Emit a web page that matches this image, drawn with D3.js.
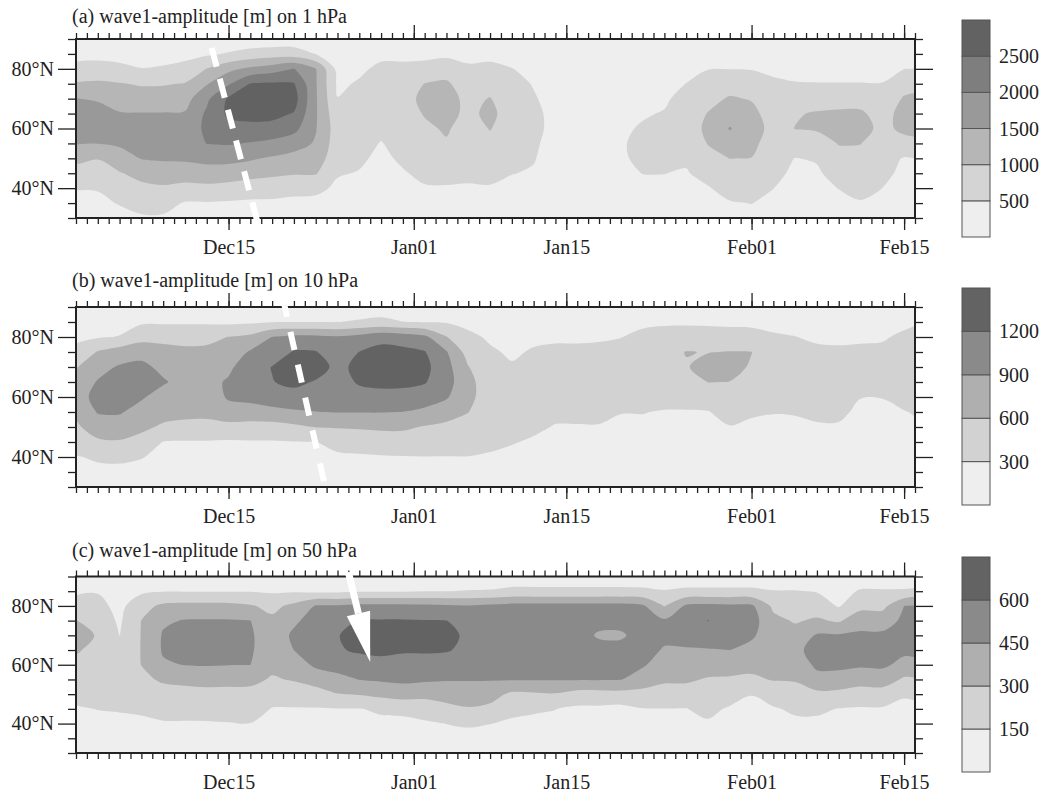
<!DOCTYPE html>
<html>
<head>
<meta charset="utf-8">
<script src="https://cdn.jsdelivr.net/npm/d3@7"></script>
<style>
  body { margin: 0; background: #fff; }
  svg { display: block; font-family: "Liberation Serif", "Times New Roman", serif; }
</style>
</head>
<body>
<svg id="chart" width="1044" height="792"></svg>
<script>
// grid: latitude rows (north to south) and days after Dec 01, every 2 days
const lats = [90, 85, 80, 75, 70, 65, 60, 55, 50, 45, 40, 35, 30];
const gridDays = d3.range(0, 80, 2);

// (a) 1 hPa, hundreds of metres; one column per grid day, values from 90N to 30N
const ampA = [
  [2, 3.7, 6.1, 10.5, 15.1, 16.6, 16.9, 15.2, 11.2, 7.9, 5.2, 3.5, 2],
  [2, 3.8, 6.5, 10.9, 14.6, 16.5, 16.8, 15.1, 10.2, 7.7, 5.4, 3.6, 2],
  [2, 3.7, 5.9, 10.3, 12.9, 15.3, 16.5, 15.6, 13.3, 9.6, 7.5, 5.4, 3],
  [2, 3.5, 5.1, 9.5, 12.6, 15.2, 16.1, 16.0, 15.2, 11.8, 8.6, 6.4, 4.5],
  [2, 3.6, 5.4, 9.6, 12.7, 15.2, 16.3, 16.6, 15.5, 12.9, 9.2, 6.4, 4.5],
  [2, 3.8, 6.3, 10.3, 13.1, 15.4, 16.7, 17, 15.7, 12.7, 8.3, 4.7, 3],
  [2, 4.3, 10.1, 14.6, 19, 20.8, 21.1, 20.1, 16.5, 12.8, 8.8, 4.7, 2.5],
  [2, 5.4, 13.7, 19.4, 25.7, 25.9, 23.2, 20.4, 16.5, 12.5, 8.3, 4.5, 2.5],
  [2, 6.7, 16, 25.2, 27.2, 26.6, 23.7, 19.7, 15.6, 11.9, 7.2, 4.3, 2.5],
  [2, 7.5, 17.7, 25.7, 28.5, 26.4, 23.4, 18.7, 14.4, 11, 7.1, 4.2, 2.5],
  [2, 7.5, 20.1, 25.3, 27, 24.7, 21.5, 17.1, 13.3, 10.4, 6.3, 4, 2.5],
  [2, 4.9, 15.2, 15.5, 15.6, 15.6, 15.3, 14.5, 12.5, 10.4, 6, 3.9, 2.5],
  [2, 2.8, 3.5, 4.3, 5.1, 6.5, 7.5, 7.3, 7, 5.3, 4.3, 3.4, 2.5],
  [2, 3.1, 4.3, 5.4, 6.4, 7.5, 7, 6.5, 5.6, 4.8, 4, 3.3, 2.5],
  [2, 4.1, 5.8, 7.2, 7.7, 6.9, 6, 4.8, 4.2, 3.5, 3.2, 2.8, 2.5],
  [2, 4.1, 5.8, 7.2, 8.5, 8, 7.5, 6.5, 5.6, 4.7, 4.0, 3.3, 2.5],
  [2, 3.8, 6.5, 10.1, 11, 10.3, 9.2, 8, 6.9, 5.8, 4.7, 3.9, 2.5],
  [2, 3.9, 7.8, 10.7, 11.6, 11.4, 10.5, 9.6, 8.1, 6.1, 4.7, 3.9, 2.5],
  [2, 3.9, 5.6, 7.3, 8.9, 9.0, 8.1, 7.3, 6.4, 5.6, 4.7, 3.9, 2.5],
  [2, 3.9, 6, 8.2, 10.2, 11, 10.2, 8.9, 7.4, 6, 4.7, 3.9, 2.5],
  [2, 3.4, 5.1, 6.1, 7.1, 8, 7.6, 6.9, 6.1, 5.1, 4.1, 3.3, 2.5],
  [2, 3, 3.9, 4.8, 5.3, 5.8, 5.9, 5.5, 5.2, 4.7, 4, 3.2, 2.5],
  [2, 2.5, 3, 3.5, 3.8, 4, 4, 3.8, 3.5, 3.2, 3, 2.7, 2.5],
  [2, 2.4, 2.8, 3.2, 3.5, 3.6, 3.6, 3.5, 3.3, 3.1, 2.9, 2.6, 2.4],
  [2, 2.4, 2.8, 3.3, 3.7, 3.9, 4, 3.9, 3.7, 3.4, 3.1, 2.7, 2.4],
  [2, 2.5, 3, 3.5, 4, 4.2, 4.5, 4.6, 4.5, 4.3, 3.8, 3.2, 2.6],
  [2, 2.5, 3, 3.4, 4.1, 4.7, 5.3, 6, 5.8, 5.05, 4.2, 3.3, 2.5],
  [2, 2.6, 3.3, 3.9, 4.5, 5.2, 6.1, 7, 6, 5.05, 4.2, 3.3, 2.5],
  [2, 3, 4, 5.05, 6.2, 7.3, 7.6, 6.6, 5.6, 4.7, 4, 3.2, 2.5],
  [2, 3.6, 4.9, 6.7, 8.5, 10.2, 11, 10.2, 8.5, 6.4, 4.7, 3.7, 2.5],
  [2, 3.6, 4.9, 7.7, 10.5, 12.9, 15.3, 12.7, 10.05, 8.2, 6.5, 4.7, 3],
  [2, 3.6, 4.8, 7.2, 9.7, 11.3, 12.5, 11.2, 9.9, 8.3, 6.7, 5.1, 3.5],
  [2, 3.2, 4.4, 5.5, 6.8, 7.8, 8.2, 7.7, 6.9, 6.1, 5.05, 4, 3],
  [2, 3.2, 3.9, 5.2, 7.5, 9.6, 10.1, 7.8, 4.9, 4.2, 3.6, 3, 2.5],
  [2, 3, 4, 5.1, 7.9, 10.4, 10.5, 8, 5.4, 4.4, 3.7, 3.1, 2.5],
  [2, 3, 4, 5.1, 8.2, 10.7, 11.7, 10.2, 8.5, 6.8, 5.1, 3.8, 2.5],
  [2, 3, 4, 5.1, 8.2, 10.7, 11.7, 10.1, 8.8, 7.4, 6.1, 4.7, 3],
  [2, 3, 4, 5.1, 6.6, 8.1, 8.8, 8, 6.8, 5.9, 5, 4, 3],
  [2, 3.6, 4.9, 8, 10.5, 11.7, 11, 8.5, 4.7, 4.2, 3.7, 3.1, 2.5],
  [2, 3.7, 5.2, 8.5, 11, 12, 11.2, 8.8, 4.9, 4.3, 3.8, 3.2, 2.6]
];

// (b) 10 hPa, hundreds of metres
const ampB = [
  [1.5, 2, 2.6, 3.5, 5.8, 7.2, 7.6, 6.6, 5.5, 4.1, 2.8, 2.3, 1.5],
  [1.5, 2.1, 2.8, 6.2, 8, 9.2, 10, 9.2, 7.5, 5.5, 3.4, 2.3, 1.5],
  [1.5, 2.2, 3.1, 7.4, 9.3, 10.2, 10, 9.25, 7.7, 5.7, 3.7, 2.1, 1.5],
  [1.5, 2.6, 4.9, 8, 9.7, 10.3, 9.3, 8, 6.6, 5, 3.1, 2.3, 1.5],
  [1.5, 2.6, 5.2, 6.9, 8.3, 9.3, 7.9, 7, 5.6, 2.9, 2.5, 2, 1.5],
  [1.5, 2.6, 5.2, 6.5, 7.3, 8, 7.3, 6.7, 5.3, 2.8, 2.4, 2, 1.5],
  [1.5, 2.6, 5.3, 6.6, 7.4, 8.2, 7.5, 6.7, 5.2, 2.8, 2.4, 2, 1.5],
  [1.5, 2.4, 6.05, 7.3, 8.5, 9.3, 9.3, 8, 5.0, 2.7, 2.3, 1.9, 1.5],
  [1.5, 2.6, 6.7, 9.3, 10.5, 10.5, 9.6, 8.1, 4.7, 2.8, 2.3, 1.9, 1.5],
  [1.5, 2.9, 9.05, 10.3, 12.1, 11.9, 10.3, 8.3, 4.8, 2.8, 2.4, 1.9, 1.5],
  [1.5, 2.95, 9.7, 12.25, 13.3, 12.6, 11, 8.6, 5.4, 2.9, 2.4, 2, 1.5],
  [1.5, 2.95, 9.65, 12.15, 13.2, 11.8, 10.4, 8.95, 6.1, 2.95, 2.5, 2, 1.5],
  [1.5, 2.95, 9.3, 10.3, 11.3, 10.9, 10.1, 9.1, 6.2, 3.8, 2.6, 2.1, 1.5],
  [1.5, 3.3, 10, 12.05, 12.7, 12.3, 11, 9.1, 6.35, 4.1, 2.7, 2.1, 1.5],
  [1.5, 3.7, 11.1, 12.9, 14, 12.7, 11.1, 9.1, 6.5, 4.5, 2.8, 2.1, 1.5],
  [1.5, 3.05, 10.7, 12.7, 13.8, 12.6, 11.1, 8.95, 6.5, 4.5, 2.9, 2.2, 1.5],
  [1.5, 2.9, 9.7, 12.15, 12.8, 12.2, 10.6, 8.3, 5.8, 4.4, 2.95, 2.2, 1.5],
  [1.5, 2.75, 6.1, 9.2, 10, 10.2, 9.3, 7.3, 5.3, 4.1, 2.95, 2.2, 1.5],
  [1.5, 2.4, 3.5, 4.8, 6.1, 6.7, 6.6, 6.05, 5, 3.9, 2.95, 2.2, 1.5],
  [1.5, 2.1, 2.7, 3.3, 4, 4.6, 4.8, 4.4, 3.9, 3.4, 2.8, 2.2, 1.5],
  [1.5, 1.9, 2.2, 2.7, 3.2, 3.9, 4.5, 4.1, 3.6, 3.1, 2.6, 2.1, 1.5],
  [1.5, 2, 2.6, 3.2, 3.8, 4.4, 4.6, 4, 3.3, 2.8, 2.4, 1.9, 1.5],
  [1.5, 2.1, 2.7, 3.4, 4.1, 4.8, 4.2, 3.4, 2.9, 2.5, 2.2, 1.8, 1.5],
  [1.5, 2.1, 2.7, 3.4, 4.1, 4.8, 4.2, 3.4, 2.9, 2.5, 2.2, 1.8, 1.5],
  [1.5, 2.1, 2.8, 3.4, 4.1, 4.8, 4.1, 3.4, 2.9, 2.5, 2.2, 1.8, 1.5],
  [1.5, 2.2, 2.95, 3.7, 4.5, 4.7, 3.9, 3.05, 2.7, 2.4, 2.1, 1.8, 1.5],
  [1.5, 2.6, 3.5, 4.4, 5.2, 4.5, 3.7, 3.05, 2.7, 2.4, 2.1, 1.8, 1.5],
  [1.5, 2.7, 3.8, 5, 5.4, 4.5, 3.6, 2.9, 2.6, 2.3, 2.1, 1.8, 1.5],
  [1.5, 2.7, 4, 6.1, 5.8, 4.7, 3.6, 2.9, 2.6, 2.3, 2.1, 1.8, 1.5],
  [1.5, 2.6, 4.1, 5.9, 7, 6.05, 4.4, 2.9, 2.7, 2.4, 2.1, 1.8, 1.5],
  [1.5, 2.4, 4.2, 6.1, 6.9, 5.95, 4.8, 3.8, 2.9, 2.5, 2.2, 1.8, 1.5],
  [1.5, 2.4, 4, 6.05, 5.7, 4.8, 4, 3.2, 2.7, 2.4, 2.1, 1.8, 1.5],
  [1.5, 2.3, 3.3, 4.5, 5.2, 5, 4.2, 3.05, 2.7, 2.4, 2.1, 1.8, 1.5],
  [1.5, 2.1, 3.05, 4.2, 4.8, 4.7, 4, 3.1, 2.7, 2.4, 2.1, 1.8, 1.5],
  [1.5, 2, 2.6, 3.5, 4.3, 4.5, 4, 3.4, 2.8, 2.4, 2.1, 1.8, 1.5],
  [1.5, 1.9, 2.5, 3.4, 4.2, 4.5, 4, 3.4, 2.8, 2.4, 2.1, 1.8, 1.5],
  [1.5, 2, 2.6, 3.5, 4.2, 3.8, 3.05, 2.6, 2.4, 2.2, 2, 1.8, 1.5],
  [1.5, 2.1, 2.7, 3.6, 4.2, 3.8, 3.05, 2.6, 2.4, 2.2, 2, 1.8, 1.5],
  [1.5, 2.4, 3.5, 4.4, 4.8, 4.4, 3.7, 2.9, 2.6, 2.3, 2.1, 1.8, 1.5],
  [1.5, 2.8, 3.9, 4.6, 4.9, 4.6, 4, 3.4, 2.8, 2.4, 2.1, 1.8, 1.5]
];

// (c) 50 hPa, tens of metres
const ampC = [
  [8, 12.7, 20.7, 30.4, 32.6, 31.1, 27.4, 22.5, 17.5, 14, 12, 10, 8],
  [8, 14.1, 19.1, 23.8, 29.5, 27.1, 24.1, 21.2, 18.2, 15.2, 12.8, 10.4, 8],
  [7, 9.1, 10.9, 12.9, 14.8, 18, 21.5, 19.9, 17.8, 15.6, 13.2, 10.6, 8],
  [7, 12.4, 25.1, 30.2, 30.6, 30.6, 30.2, 27, 22, 16.5, 13.2, 10.6, 8],
  [7, 14.3, 32.8, 43, 46.3, 46.5, 43.2, 31.8, 25, 19, 14, 11, 8],
  [7, 14.3, 34.1, 45.8, 48.8, 48, 45.4, 33.5, 25.4, 19.1, 14, 11, 8],
  [7, 14.3, 34.3, 46, 49.5, 49, 46, 34.5, 26, 19.5, 14, 11, 8],
  [7, 14.3, 34, 46, 49.5, 49, 45.3, 34, 26, 20, 14.5, 11, 8],
  [7, 14.3, 31.5, 45.2, 46.5, 46.5, 45.1, 33.5, 26, 20.5, 14.8, 11, 8],
  [7, 13.3, 25.9, 33.4, 38.1, 37.5, 33.4, 28.6, 20.8, 14.4, 12.3, 10.2, 8],
  [7, 13.7, 33.8, 43.1, 47, 45.05, 38, 31.1, 21.4, 14.2, 12, 10, 8],
  [7, 12, 46, 49.6, 53.5, 52.1, 47.4, 37.5, 22.5, 14.3, 12.1, 10, 8],
  [7, 12, 46.5, 54, 59.5, 59, 52, 40, 29.5, 14.5, 12, 10, 8],
  [7, 13.5, 49.1, 60.8, 64, 61.4, 55.5, 45.4, 30.9, 14.6, 12.4, 10.2, 8],
  [7, 13.5, 49, 61, 64.5, 62.5, 56.5, 47, 34, 16.5, 12.8, 10.3, 8],
  [7, 13.5, 49, 61, 64.5, 61.5, 55, 48, 37, 18, 12, 10, 8],
  [7, 14.8, 48, 60.5, 64, 61.5, 55, 47, 35, 20, 13.5, 10.5, 8],
  [7, 14.8, 47, 60.2, 63, 61, 54, 46, 36, 26, 15.2, 11, 8],
  [7, 15.5, 46, 55, 58, 57, 51, 46, 37, 29, 16.3, 11.5, 8],
  [7, 16, 48, 55, 56, 55.5, 53, 46, 35, 27, 15.2, 11, 8],
  [7, 18.2, 50, 55, 56, 55, 52, 46, 27.4, 17, 13.8, 10.3, 8],
  [7, 18.2, 50, 55, 56, 55, 52, 46, 28, 16, 13.2, 10.3, 8],
  [7, 18.2, 50, 55, 56, 55, 52, 46, 29, 15.2, 12.6, 10.3, 8],
  [7, 18.2, 50, 55, 55, 54, 52, 46, 24, 12.5, 11.5, 10, 8],
  [7, 18.2, 50, 53, 42, 54, 52, 46, 24, 12.5, 11.5, 10, 8],
  [7, 18.2, 50, 52, 42, 52, 51, 45.5, 25, 11, 10.5, 9.5, 8],
  [7, 17.6, 47.2, 52, 53.6, 50.2, 46.7, 38.2, 25, 14.5, 12.3, 10.2, 8],
  [7, 15.7, 29.2, 47, 48.3, 43.8, 38.1, 32.3, 23.8, 14.7, 12.3, 10.2, 8],
  [7, 17.6, 47.5, 52, 51.5, 43.5, 37.5, 32.5, 22.5, 14.7, 12.3, 10.2, 8],
  [7, 17.6, 49, 60.3, 54, 44, 38.5, 28.5, 24, 18, 13.5, 10.8, 8],
  [7, 17.6, 48, 54, 50, 45.1, 37, 28, 21, 13.5, 11.5, 9.8, 8],
  [7, 17.6, 47.5, 51, 47, 41, 35, 27, 15.3, 12.5, 11, 9.5, 8],
  [7, 15.5, 27, 34, 37, 36, 34, 31, 20, 14, 11.5, 9.8, 8],
  [7, 15.5, 22.2, 28.7, 35.2, 41.7, 37.8, 31.3, 24.1, 16.6, 13, 10.5, 8],
  [7, 14.3, 22.5, 32.1, 46.4, 50, 47.2, 41.3, 26.3, 16.8, 13, 10.5, 8],
  [6, 10, 13.9, 28.2, 46.4, 50, 47.2, 41.3, 25, 14.6, 12.4, 10.2, 8],
  [7, 16.3, 25.4, 39.4, 47.3, 49.4, 46.7, 37.5, 21.8, 14, 12, 10, 8],
  [7, 16.3, 25.4, 39.4, 47.3, 49.4, 47, 39, 21.8, 14, 12, 10, 8],
  [7, 16.5, 45.05, 47.5, 50, 47.2, 42, 27.6, 15.7, 13.3, 11.5, 9.8, 8],
  [7, 17, 46, 48, 50, 47.5, 43, 30, 17, 13.5, 11.5, 9.8, 8]
];

const levelsA = [5, 10, 15, 20, 25];
const levelsB = [3, 6, 9, 12];
const levelsC = [15, 30, 45, 60];
const labelsA = ["500", "1000", "1500", "2000", "2500"];
const labelsB = ["300", "600", "900", "1200"];
const labelsC = ["150", "300", "450", "600"];
const titles = ["(a) wave1-amplitude [m] on 1 hPa", "(b) wave1-amplitude [m] on 10 hPa", "(c) wave1-amplitude [m] on 50 hPa"];

const majorDates = ["2003-12-15", "2004-01-01", "2004-01-15", "2004-02-01", "2004-02-15"];
const latMajor = [40, 60, 80];
const latMinor = [30, 35, 45, 50, 55, 65, 70, 75, 85, 90];

// white propagation marks: [day after Dec01, latitude]
const trackA = [[12.45, 87], [16.75, 27.3]];
const trackB = [[19.0, 92.7], [23.2, 24.7]];
const arrowC = [[25, 91.5], [27, 60.9]];

const start = Date.UTC(2003, 11, 1);
const dayMs = 864e5;
const toDate = d => new Date(start + d * dayMs);

const svg = d3.select("#chart");
const x = d3.scaleUtc().domain([toDate(0), toDate(77)]).range([76, 915]);

const greys6 = ["#eeeeee", "#d4d4d4", "#b6b6b6", "#999999", "#7e7e7e", "#626262"];
const greys5 = ["#eeeeee", "#d2d2d2", "#afafaf", "#8a8a8a", "#636363"];

const panels = [
  { grid: ampA, levels: levelsA, labels: labelsA, colors: greys6, top: 39, bottom: 218, titleY: 23, cb: [20, 237], track: trackA, dash: "19.5,12.4" },
  { grid: ampB, levels: levelsB, labels: labelsB, colors: greys5, top: 307, bottom: 487, titleY: 287, cb: [288, 505], track: trackB, dash: "18.5,15.2" },
  { grid: ampC, levels: levelsC, labels: labelsC, colors: greys5, top: 576.5, bottom: 753, titleY: 557, cb: [557, 772], arrow: arrowC }
];

const nx = gridDays.length, ny = lats.length;
const gx = d3.scaleLinear().domain([0.5, nx - 0.5]).range([gridDays[0], gridDays[nx - 1]]);
const gy = d3.scaleLinear().domain([0.5, ny - 0.5]).range([lats[0], lats[ny - 1]]);
const ringLine = d3.line().curve(d3.curveCatmullRomClosed.alpha(0.5));

panels.forEach((p, pi) => {
  const y = d3.scaleLinear().domain([30, 90]).range([p.bottom, p.top]);
  const g = svg.append("g");

  const clipId = "clip" + pi;
  svg.append("clipPath").attr("id", clipId)
    .append("rect").attr("x", 76).attr("y", p.top).attr("width", 915 - 76).attr("height", p.bottom - p.top);

  // flatten columns into row-major values
  const values = new Array(nx * ny);
  for (let j = 0; j < ny; j++)
    for (let i = 0; i < nx; i++) values[j * nx + i] = p.grid[i][j];

  const contours = d3.contours().size([nx, ny]).thresholds(p.levels)(values);
  const toPx = ([cx, cy]) => [x(toDate(gx(cx))), y(gy(cy))];
  const shapePath = mp => mp.coordinates
    .map(poly => poly.map(ring => ringLine(ring.slice(0, -1).map(toPx))).join(""))
    .join("");

  const field = g.append("g").attr("clip-path", `url(#${clipId})`);
  field.append("rect")
    .attr("x", 76).attr("y", p.top).attr("width", 915 - 76).attr("height", p.bottom - p.top)
    .attr("fill", p.colors[0]);
  field.selectAll("path")
    .data(contours)
    .join("path")
      .attr("d", shapePath)
      .attr("fill", (d, i) => p.colors[i + 1])
      .attr("fill-rule", "evenodd");

  // axes
  const tickStyle = sel => {
    sel.select(".domain").remove();
    sel.selectAll("line").attr("stroke", "#222").attr("stroke-width", 1.3);
    sel.selectAll("text").attr("fill", "#222").attr("font-size", 20).attr("font-family", "Liberation Serif, serif");
  };
  const dayTicks = d3.utcDay.range(toDate(0), toDate(77.5));
  const majors = majorDates.map(s => new Date(s + "T00:00:00Z"));

  g.append("g").attr("transform", `translate(0,${p.bottom})`)
    .call(d3.axisBottom(x).tickValues(dayTicks).tickSize(6).tickFormat("")).call(tickStyle);
  g.append("g").attr("transform", `translate(0,${p.bottom})`)
    .call(d3.axisBottom(x).tickValues(majors).tickSize(12).tickPadding(10).tickFormat(d3.utcFormat("%b%d"))).call(tickStyle);
  g.append("g").attr("transform", `translate(0,${p.top})`)
    .call(d3.axisTop(x).tickValues(dayTicks).tickSize(6).tickFormat("")).call(tickStyle);
  g.append("g").attr("transform", `translate(0,${p.top})`)
    .call(d3.axisTop(x).tickValues(majors).tickSize(14).tickFormat("")).call(tickStyle);

  g.append("g").attr("transform", "translate(76,0)")
    .call(d3.axisLeft(y).tickValues(latMinor).tickSize(8).tickFormat("")).call(tickStyle);
  g.append("g").attr("transform", "translate(76,0)")
    .call(d3.axisLeft(y).tickValues(latMajor).tickSize(18).tickPadding(4).tickFormat(d => d + "°N")).call(tickStyle);
  g.append("g").attr("transform", "translate(915,0)")
    .call(d3.axisRight(y).tickValues(latMinor).tickSize(8).tickFormat("")).call(tickStyle);
  g.append("g").attr("transform", "translate(915,0)")
    .call(d3.axisRight(y).tickValues(latMajor).tickSize(18).tickFormat("")).call(tickStyle);

  g.append("rect")
    .attr("x", 76).attr("y", p.top).attr("width", 915 - 76).attr("height", p.bottom - p.top)
    .attr("fill", "none").attr("stroke", "#222").attr("stroke-width", 2);

  g.append("text")
    .attr("x", 72).attr("y", p.titleY)
    .attr("font-size", 20).attr("fill", "#222")
    .text(titles[pi]);

  // colour bar
  const nC = p.colors.length;
  const cbY = d3.scaleLinear().domain([0, nC]).range([p.cb[1], p.cb[0]]);
  const cb = g.append("g");
  cb.selectAll("rect")
    .data(p.colors)
    .join("rect")
      .attr("x", 962).attr("width", 28)
      .attr("y", (d, i) => cbY(i + 1))
      .attr("height", (d, i) => cbY(i) - cbY(i + 1))
      .attr("fill", d => d)
      .attr("stroke", "#555").attr("stroke-width", 1);
  cb.selectAll("text")
    .data(p.labels)
    .join("text")
      .attr("x", 999)
      .attr("y", (d, i) => cbY(i + 1))
      .attr("dy", "0.35em")
      .attr("font-size", 20).attr("fill", "#222")
      .text(d => d);

  // white marks
  if (p.track) {
    g.append("line")
      .attr("x1", x(toDate(p.track[0][0]))).attr("y1", y(p.track[0][1]))
      .attr("x2", x(toDate(p.track[1][0]))).attr("y2", y(p.track[1][1]))
      .attr("stroke", "#fff").attr("stroke-width", 6)
      .attr("stroke-dasharray", p.dash);
  }
  if (p.arrow) {
    const x0 = x(toDate(p.arrow[0][0])), y0 = y(p.arrow[0][1]);
    const x1 = x(toDate(p.arrow[1][0])), y1 = y(p.arrow[1][1]);
    const len = Math.hypot(x1 - x0, y1 - y0);
    const ux = (x1 - x0) / len, uy = (y1 - y0) / len;
    const headLen = 50, headW = 12;
    const bx = x1 - ux * headLen, by = y1 - uy * headLen;
    g.append("line")
      .attr("x1", x0).attr("y1", y0).attr("x2", bx).attr("y2", by)
      .attr("stroke", "#fff").attr("stroke-width", 7);
    g.append("path")
      .attr("d", d3.line()([[x1, y1], [bx - uy * headW, by + ux * headW], [bx + uy * headW, by - ux * headW]]) + "Z")
      .attr("fill", "#fff");
  }
});
</script>
</body>
</html>
